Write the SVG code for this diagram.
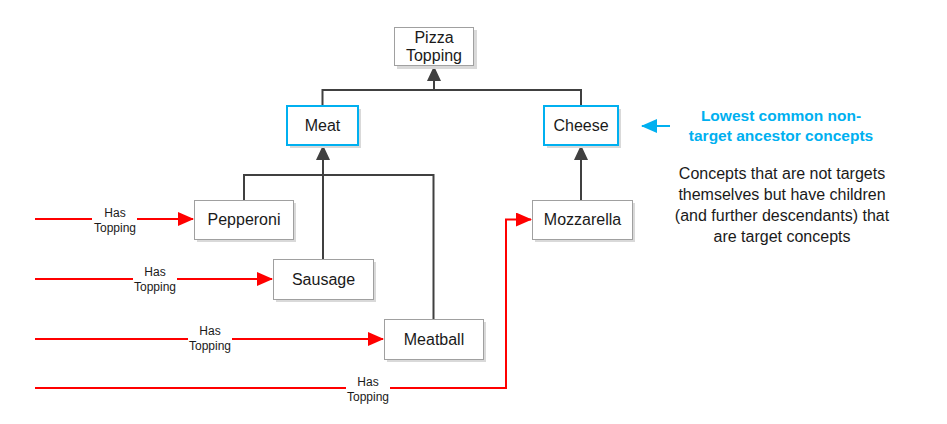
<svg xmlns="http://www.w3.org/2000/svg" width="947" height="424" viewBox="0 0 947 424">
<style>
.box{fill:#fff;stroke:#a0a0a0;stroke-width:1}
.sh{fill:#d9d9d9}
.anc{fill:#fff;stroke:#00b0f0;stroke-width:2}
.t{font-family:"Liberation Sans",Arial,sans-serif;font-size:16px;fill:#1a1a1a;text-anchor:middle}
.lbl{font-family:"Liberation Sans",Arial,sans-serif;font-size:12px;fill:#1a1a1a;text-anchor:middle}
.gl{fill:none;stroke:#404040;stroke-width:2}
.rl{fill:none;stroke:#ff0000;stroke-width:2}
.cy{font-family:"Liberation Sans",Arial,sans-serif;font-size:15.5px;font-weight:bold;fill:#00b0f0;text-anchor:middle}
.desc{font-family:"Liberation Sans",Arial,sans-serif;font-size:16px;fill:#1a1a1a;text-anchor:middle}
</style>
<defs>
<marker id="ag" markerUnits="userSpaceOnUse" markerWidth="15" markerHeight="14" refX="14" refY="7" orient="auto"><path d="M0,0 L15,7 L0,14 Z" fill="#404040"/></marker>
<marker id="ar" markerUnits="userSpaceOnUse" markerWidth="16" markerHeight="14" refX="15" refY="7" orient="auto"><path d="M0,0 L16,7 L0,14 Z" fill="#ff0000"/></marker>
<marker id="ac" markerUnits="userSpaceOnUse" markerWidth="16" markerHeight="14" refX="15" refY="7" orient="auto"><path d="M0,0 L16,7 L0,14 Z" fill="#00b0f0"/></marker>
</defs>

<g id="connectors">
<path class="gl" d="M322.5,106 V90 H581 V106"/>
<path class="gl" d="M434,90 V67" marker-end="url(#ag)"/>
<path class="gl" d="M244,200 V175 H433.5 V319"/>
<path class="gl" d="M323,259 V146" marker-end="url(#ag)"/>
<path class="gl" d="M581,200 V146" marker-end="url(#ag)"/>

<path class="rl" d="M35,219 H193" marker-end="url(#ar)"/>
<path class="rl" d="M35,279 H272" marker-end="url(#ar)"/>
<path class="rl" d="M35,339 H383" marker-end="url(#ar)"/>
<path class="rl" d="M35,388 H506 V219.5 H531" marker-end="url(#ar)"/>

<rect x="92" y="205" width="45" height="28" fill="#fff"/>
<text class="lbl" x="115" y="217">Has</text><text class="lbl" x="115" y="232">Topping</text>
<rect x="133" y="265" width="44" height="28" fill="#fff"/>
<text class="lbl" x="155" y="276">Has</text><text class="lbl" x="155" y="291">Topping</text>
<rect x="188" y="325" width="44" height="28" fill="#fff"/>
<text class="lbl" x="210" y="335">Has</text><text class="lbl" x="210" y="350">Topping</text>
<rect x="346" y="374" width="44" height="28" fill="#fff"/>
<text class="lbl" x="368" y="386">Has</text><text class="lbl" x="368" y="401">Topping</text>

<line x1="670" y1="126" x2="642" y2="126" stroke="#00b0f0" stroke-width="2" marker-end="url(#ac)"/>
</g>

<g id="pizza-topping">
<rect class="sh" x="397" y="30" width="80" height="39"/>
<rect class="box" x="394.5" y="27.5" width="79" height="38"/>
<text class="t" x="434" y="43">Pizza</text><text class="t" x="434" y="61">Topping</text>
</g>
<g id="meat">
<rect class="sh" x="290" y="109" width="71" height="39"/>
<rect class="anc" x="287" y="106" width="71" height="39"/>
<text class="t" x="322.5" y="131">Meat</text>
</g>
<g id="cheese">
<rect class="sh" x="547" y="109" width="74" height="39"/>
<rect class="anc" x="544" y="106" width="74" height="39"/>
<text class="t" x="581" y="131">Cheese</text>
</g>
<g id="pepperoni">
<rect class="sh" x="197" y="203" width="99" height="39"/>
<rect class="box" x="194.5" y="200.5" width="99" height="39"/>
<text class="t" x="244" y="225">Pepperoni</text>
</g>
<g id="sausage">
<rect class="sh" x="276" y="262" width="100" height="40"/>
<rect class="box" x="273.5" y="259.5" width="100" height="40"/>
<text class="t" x="323.5" y="285">Sausage</text>
</g>
<g id="meatball">
<rect class="sh" x="387" y="322" width="99" height="40"/>
<rect class="box" x="384.5" y="319.5" width="99" height="40"/>
<text class="t" x="434" y="345">Meatball</text>
</g>
<g id="mozzarella">
<rect class="sh" x="535" y="203" width="100" height="39"/>
<rect class="box" x="532.5" y="200.5" width="100" height="39"/>
<text class="t" x="582.5" y="225">Mozzarella</text>
</g>

<g id="legend">
<text class="cy" x="781" y="121">Lowest common non-</text>
<text class="cy" x="781" y="141">target ancestor concepts</text>
<text class="desc" x="782" y="179">Concepts that are not targets</text>
<text class="desc" x="782" y="200">themselves but have children</text>
<text class="desc" x="782" y="221">(and further descendants) that</text>
<text class="desc" x="782" y="242">are target concepts</text>
</g>
</svg>
